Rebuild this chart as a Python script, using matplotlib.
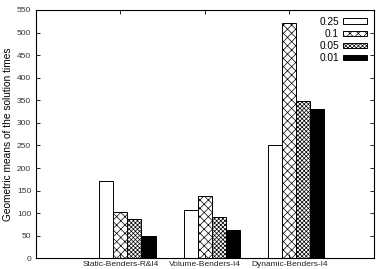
import numpy as np
import matplotlib
matplotlib.use('Agg')
import matplotlib.pyplot as plt

# Chart data
methods = ['Static-Benders-R&I4', 'Volume-Benders-I4', 'Dynamic-Benders-I4']
series_labels = ['0.25', '0.1', '0.05', '0.01']
vals_025 = [172, 107, 252]
vals_01 = [103, 139, 522]
vals_005 = [87, 91, 349]
vals_001 = [49, 63, 330]
yticks = list(range(0, 551, 50))

plt.rcParams['font.family'] = ['Liberation Sans', 'DejaVu Sans']
plt.rcParams['hatch.linewidth'] = 0.5

fig = plt.figure(figsize=(3.76, 2.69), dpi=100)
ax = fig.add_axes([36 / 376, 1 - 258.3 / 269, (373.5 - 36) / 376, (258.3 - 10) / 269])

x = np.arange(len(methods))
width = 1 / 6
styles = [
    dict(facecolor='white', hatch=None),
    dict(facecolor='white', hatch='xxxx'),
    dict(facecolor='white', hatch='xxxxxxxx'),
    dict(facecolor='black', hatch=None),
]
all_vals = [vals_025, vals_01, vals_005, vals_001]
for j, (vals, lab, st) in enumerate(zip(all_vals, series_labels, styles)):
    ax.bar(x + (j - 1) * width, vals, width, label=lab, edgecolor='black',
           linewidth=0.7, **st)

ax.set_xlim(-1, 3)
ax.set_ylim(0, 550)
ax.set_xticks(x)
ax.set_xticklabels(methods, fontsize=6)
ax.set_yticks(yticks)
ax.tick_params(axis='y', labelsize=6, direction='in', length=3, width=0.6,
               right=True, pad=3.5, labelcolor='#333333')
ax.tick_params(axis='x', direction='in', length=3, width=0.6, top=True, pad=2,
               labelcolor='#222222')
for s in ax.spines.values():
    s.set_linewidth(0.8)

ax.set_ylabel('Geometric means of the solution times', fontsize=7.3, labelpad=3)

leg = ax.legend(loc='upper right', markerfirst=False, frameon=False,
                fontsize=7.3, handlelength=2.35, handleheight=0.4,
                handletextpad=0.4, labelspacing=0.22, borderaxespad=0.45,
                borderpad=0.2)

fig.savefig('out.png', dpi=100)
